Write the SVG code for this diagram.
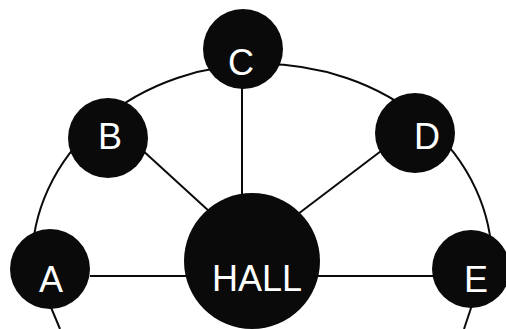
<svg xmlns="http://www.w3.org/2000/svg" width="506" height="329" viewBox="0 0 506 329">
<style>
.n{fill:#0a0a0a}
.t{fill:#fff;font-family:"Liberation Sans",Arial,sans-serif;font-size:36px;text-anchor:middle}
.e{stroke:#0a0a0a;stroke-width:2;fill:none}
</style>
<rect width="506" height="329" fill="#fff"/>
<g id="connectors">
<path class="e" d="M32,262 A230,198 0 0 1 492,262"/>
<line class="e" x1="90" y1="276" x2="190" y2="276"/>
<line class="e" x1="315" y1="276" x2="435" y2="276"/>
<line class="e" x1="242" y1="88" x2="242" y2="200"/>
<line class="e" x1="140" y1="148" x2="210" y2="212"/>
<line class="e" x1="385" y1="148" x2="298" y2="214"/>
<line class="e" x1="50" y1="305" x2="60" y2="329"/>
<line class="e" x1="472" y1="305" x2="464" y2="329"/>
</g>
<g id="A"><circle class="n" cx="50" cy="269" r="40"/><text class="t" x="51" y="292">A</text></g>
<g id="B"><circle class="n" cx="108" cy="138" r="40"/><text class="t" x="110" y="149">B</text></g>
<g id="C"><circle class="n" cx="243" cy="49" r="40"/><text class="t" x="241" y="75">C</text></g>
<g id="D"><circle class="n" cx="415" cy="133" r="40"/><text class="t" x="427" y="149">D</text></g>
<g id="E"><circle class="n" cx="471" cy="269" r="39"/><text class="t" x="476" y="292">E</text></g>
<g id="HALL"><circle class="n" cx="252" cy="261" r="68"/><text class="t" x="257" y="291">HALL</text></g>
</svg>
